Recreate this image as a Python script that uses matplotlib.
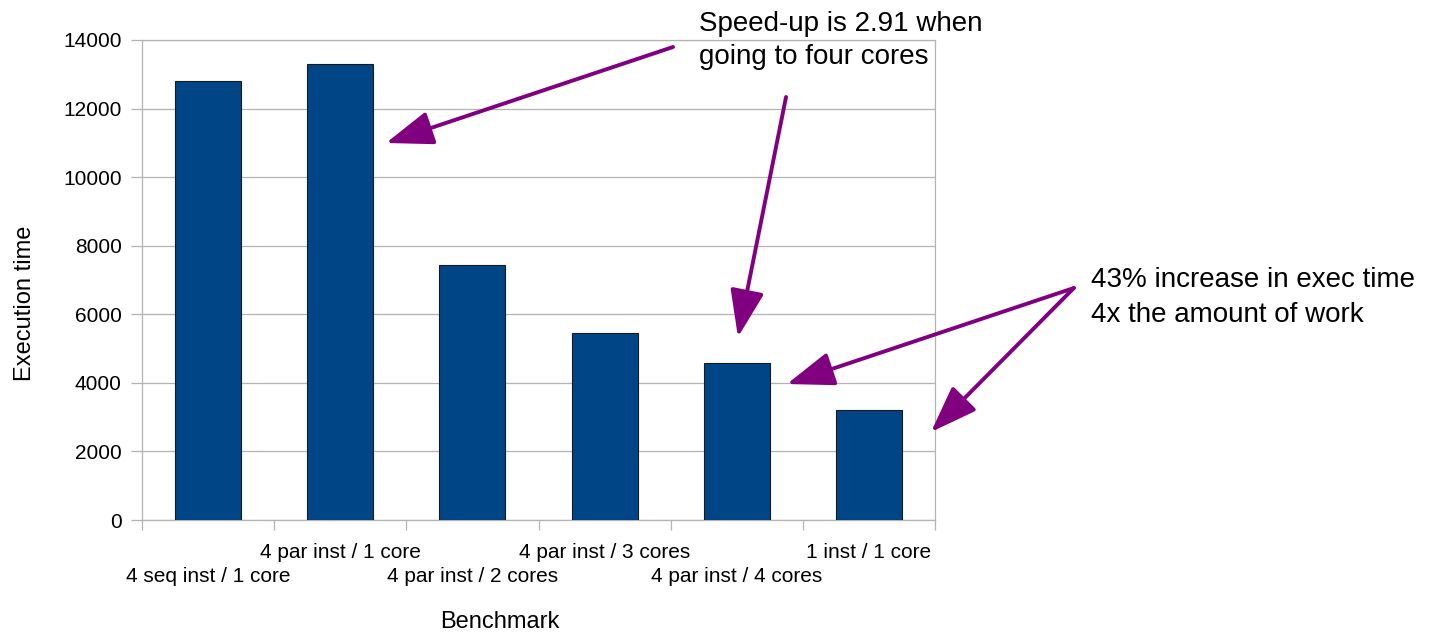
import matplotlib
matplotlib.use("Agg")
import matplotlib.pyplot as plt
import numpy as np

plt.rcParams["font.family"] = ["Liberation Sans", "DejaVu Sans"]

# Benchmark configurations and measured execution times
benchmarks = [
    "4 seq inst / 1 core",
    "4 par inst / 1 core",
    "4 par inst / 2 cores",
    "4 par inst / 3 cores",
    "4 par inst / 4 cores",
    "1 inst / 1 core",
]
exec_time = [12800, 13300, 7430, 5460, 4570, 3200]
y_ticks = [0, 2000, 4000, 6000, 8000, 10000, 12000, 14000]

BAR_COLOR = "#004586"
GRID_COLOR = "#b3b3b3"
ARROW_COLOR = "#800080"

W, H = 1431, 632
fig = plt.figure(figsize=(W / 100, H / 100), dpi=100)
ax = fig.add_axes([142 / W, 112 / H, 793 / W, 480 / H])

x = np.arange(len(benchmarks))
ax.bar(x, exec_time, width=0.5, color=BAR_COLOR, edgecolor="#1a1a1a",
       linewidth=0.8, zorder=3)

ax.set_xlim(-0.5, len(benchmarks) - 0.5)
ax.set_ylim(y_ticks[0], y_ticks[-1])

# y axis: grid lines and outward ticks
ax.set_yticks(y_ticks)
ax.set_yticklabels([str(v) for v in y_ticks])
ax.yaxis.grid(True, color=GRID_COLOR, linewidth=0.9, zorder=0)
ax.set_axisbelow(True)
ax.tick_params(axis="y", which="major", direction="out", length=8,
               width=0.9, color=GRID_COLOR, pad=6.5, labelsize=15)

# x axis: tick marks at category boundaries, labels staggered in two rows
ax.set_xticks(np.arange(-0.5, len(benchmarks), 1.0))
ax.set_xticklabels([])
ax.tick_params(axis="x", which="major", direction="out", length=7.5,
               width=0.9, color=GRID_COLOR)
ax.set_xticks(x, minor=True)
ax.set_xticklabels(benchmarks, minor=True)
ax.tick_params(axis="x", which="minor", length=0, labelsize=15)
for i, tick in enumerate(ax.xaxis.get_minor_ticks()):
    tick.set_pad(34.0 if i % 2 == 0 else 16.8)

for side in ("left", "right", "top", "bottom"):
    ax.spines[side].set_color(GRID_COLOR)
    ax.spines[side].set_linewidth(0.9)

# axis titles
fig.text(25 / W, 1 - 303 / H, "Execution time", rotation=90,
         ha="center", va="center", fontsize=17)
fig.text(500 / W, 1 - 628 / H, "Benchmark", ha="center", va="baseline",
         fontsize=17)

# callout texts
fig.text(699 / W, 1 - 31 / H, "Speed-up is 2.91 when", ha="left",
         va="baseline", fontsize=20)
fig.text(699 / W, 1 - 64 / H, "going to four cores", ha="left",
         va="baseline", fontsize=20)
fig.text(1091 / W, 1 - 287 / H, "43% increase in exec time", ha="left",
         va="baseline", fontsize=20)
fig.text(1091 / W, 1 - 322 / H, "4x the amount of work", ha="left",
         va="baseline", fontsize=20)

# callout arrows (tail, tip) in data coordinates
arrows = [
    ((3.518, 13796), (1.346, 10996)),
    ((4.373, 12338), (4.009, 5337)),
    ((6.551, 6767), (4.380, 3967)),
    ((6.551, 6767), (5.470, 2567)),
]
for tail, tip in arrows:
    ax.annotate(
        "", xy=tip, xytext=tail, xycoords="data", textcoords="data",
        annotation_clip=False,
        arrowprops=dict(arrowstyle="-|>,head_length=29,head_width=10.5",
                        mutation_scale=1, color=ARROW_COLOR, lw=2.8,
                        shrinkA=0, shrinkB=0),
        zorder=5,
    )

fig.savefig("out.png", dpi=100, facecolor="white")
